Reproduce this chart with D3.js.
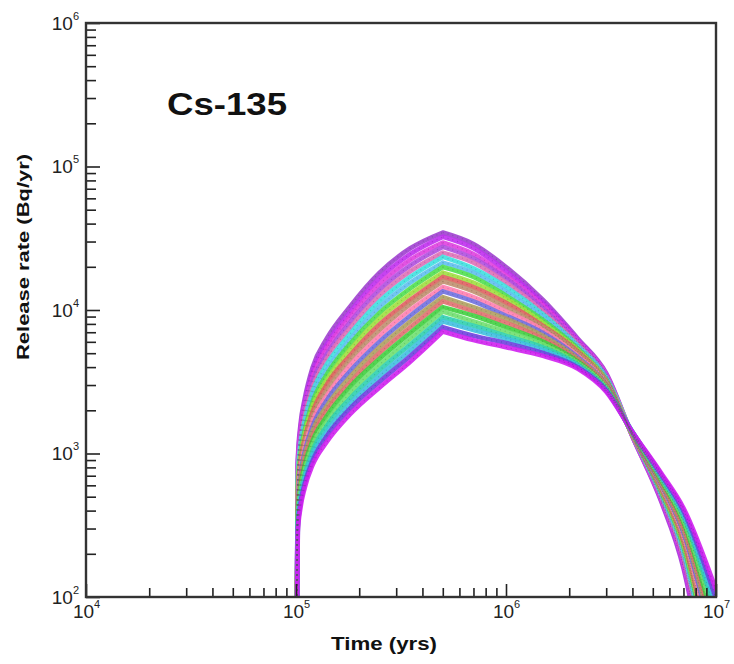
<!DOCTYPE html>
<html>
<head>
<meta charset="utf-8">
<script src="https://cdn.jsdelivr.net/npm/d3@7"></script>
<style>
body { margin: 0; background: #fff; }
svg { display: block; font-family: "Liberation Sans", Arial, sans-serif; }
</style>
</head>
<body>
<svg id="chart" width="734" height="664"></svg>
<script>
// sample times (yrs) shared by every realisation
var times = [1.0e5, 1.02e5, 1.05e5, 1.1e5, 1.2e5, 1.4e5, 1.8e5, 2.5e5, 3.5e5, 5e5,
             7e5, 1e6, 1.5e6, 2.2e6, 3e6, 4e6, 5.5e6, 7e6, 1e7];
var peakTime = 5e5;

// log10 of release rate (Bq/yr), one row per curve (highest peak first)
var rateExp = [
  [1, 2.95, 3.20, 3.38, 3.60, 3.80, 4.02, 4.26, 4.43, 4.54, 4.46, 4.30, 4.07, 3.80, 3.56, 3.12, 2.66, 2.20, 0.90],
  [1, 2.93, 3.17, 3.35, 3.57, 3.76, 3.98, 4.22, 4.39, 4.51, 4.43, 4.27, 4.05, 3.79, 3.55, 3.12, 2.67, 2.22, 0.96],
  [1, 2.90, 3.14, 3.32, 3.53, 3.73, 3.95, 4.18, 4.35, 4.47, 4.39, 4.24, 4.03, 3.78, 3.55, 3.12, 2.68, 2.24, 1.02],
  [1, 2.87, 3.11, 3.29, 3.50, 3.69, 3.91, 4.14, 4.31, 4.44, 4.36, 4.22, 4.01, 3.77, 3.54, 3.12, 2.69, 2.26, 1.07],
  [1, 2.85, 3.08, 3.26, 3.46, 3.66, 3.87, 4.10, 4.27, 4.40, 4.33, 4.19, 3.99, 3.76, 3.53, 3.13, 2.70, 2.28, 1.13],
  [1, 2.83, 3.06, 3.23, 3.43, 3.62, 3.83, 4.06, 4.23, 4.37, 4.29, 4.16, 3.97, 3.75, 3.53, 3.13, 2.71, 2.31, 1.19],
  [1, 2.80, 3.03, 3.19, 3.40, 3.58, 3.79, 4.02, 4.19, 4.33, 4.26, 4.13, 3.95, 3.74, 3.52, 3.13, 2.72, 2.33, 1.25],
  [1, 2.78, 3.00, 3.16, 3.36, 3.55, 3.76, 3.98, 4.15, 4.30, 4.23, 4.10, 3.93, 3.73, 3.51, 3.13, 2.73, 2.35, 1.30],
  [1, 2.75, 2.97, 3.13, 3.33, 3.51, 3.72, 3.94, 4.11, 4.26, 4.19, 4.08, 3.91, 3.72, 3.51, 3.13, 2.74, 2.37, 1.36],
  [1, 2.72, 2.94, 3.10, 3.29, 3.48, 3.68, 3.90, 4.07, 4.23, 4.16, 4.05, 3.89, 3.71, 3.50, 3.13, 2.75, 2.39, 1.42],
  [1, 2.70, 2.91, 3.07, 3.26, 3.44, 3.65, 3.86, 4.04, 4.20, 4.13, 4.02, 3.88, 3.70, 3.50, 3.13, 2.76, 2.41, 1.48],
  [1, 2.68, 2.88, 3.04, 3.23, 3.40, 3.61, 3.82, 4.00, 4.16, 4.09, 3.99, 3.86, 3.68, 3.49, 3.14, 2.77, 2.43, 1.53],
  [1, 2.65, 2.85, 3.01, 3.19, 3.37, 3.57, 3.78, 3.96, 4.13, 4.06, 3.96, 3.84, 3.67, 3.48, 3.14, 2.78, 2.45, 1.59],
  [1, 2.62, 2.82, 2.98, 3.16, 3.33, 3.53, 3.74, 3.92, 4.09, 4.02, 3.94, 3.82, 3.66, 3.48, 3.14, 2.79, 2.47, 1.65],
  [1, 2.60, 2.79, 2.95, 3.12, 3.30, 3.49, 3.70, 3.88, 4.06, 3.99, 3.91, 3.80, 3.65, 3.47, 3.14, 2.80, 2.49, 1.71],
  [1, 2.58, 2.77, 2.92, 3.09, 3.26, 3.46, 3.66, 3.84, 4.02, 3.96, 3.88, 3.78, 3.64, 3.46, 3.14, 2.81, 2.52, 1.76],
  [1, 2.55, 2.74, 2.88, 3.06, 3.22, 3.42, 3.62, 3.80, 3.99, 3.92, 3.85, 3.76, 3.63, 3.46, 3.14, 2.82, 2.54, 1.82],
  [1, 2.52, 2.71, 2.85, 3.02, 3.19, 3.38, 3.58, 3.76, 3.95, 3.89, 3.82, 3.74, 3.62, 3.45, 3.15, 2.83, 2.56, 1.88],
  [1, 2.50, 2.68, 2.82, 2.99, 3.15, 3.34, 3.54, 3.72, 3.92, 3.86, 3.80, 3.72, 3.61, 3.44, 3.15, 2.84, 2.58, 1.94],
  [1, 2.48, 2.65, 2.79, 2.95, 3.12, 3.31, 3.50, 3.68, 3.88, 3.82, 3.77, 3.70, 3.60, 3.44, 3.15, 2.85, 2.60, 1.99],
  [1, 2.45, 2.62, 2.76, 2.92, 3.08, 3.27, 3.46, 3.64, 3.85, 3.79, 3.74, 3.68, 3.59, 3.43, 3.15, 2.86, 2.62, 2.05]
];

var lineColors = ['#a040d0', '#c030f0', '#e040e0', '#b050e0', '#e070b8', '#40e0e0', '#60c0f0',
                  '#50e050', '#a0e040', '#e06060', '#c09070', '#ff80b0', '#7070e0', '#b0a060',
                  '#e07070', '#40d040', '#70e070', '#30d0b0', '#40c0e0', '#7040e0', '#d020f0'];

var xDecades = [1e4, 1e5, 1e6, 1e7];
var yDecades = [1e2, 1e3, 1e4, 1e5, 1e6];
var chartTitle = 'Cs-135';
var xTitle = 'Time (yrs)';
var yTitle = 'Release rate (Bq/yr)';

var svg = d3.select('#chart');
// note: "top" is taken by window.top, so plot edges get their own names
var plotL = 86, plotR = 716, plotT = 23, plotB = 597;

var x = d3.scaleLog().domain([1e4, 1e7]).range([plotL, plotR]);
var y = d3.scaleLog().domain([1e2, 1e6]).range([plotB, plotT]);

var isDecade = function(v) {
    var e = Math.log10(v);
    return Math.abs(e - Math.round(e)) < 1e-9;
};

svg.append('clipPath').attr('id', 'plotclip')
    .append('rect')
    .attr('x', plotL).attr('y', plotT)
    .attr('width', plotR - plotL).attr('height', plotB - plotT);

// curves: smooth on each side of the peak, keep the kink at the peak itself
var smooth = d3.line()
    .curve(d3.curveMonotoneX)
    .x(function(d) { return x(d[0]); })
    .y(function(d) { return y(d[1]); });

var peakIdx = times.indexOf(peakTime);
var curvePath = function(d) {
    return smooth(d.slice(0, peakIdx + 1)) + smooth(d.slice(peakIdx));
};

var curves = rateExp.map(function(row) {
    return row.map(function(e, i) { return [times[i], Math.pow(10, e)]; });
});

var plot = svg.append('g').attr('clip-path', 'url(#plotclip)');

plot.selectAll('path.curve')
    .data(curves)
    .enter()
    .append('path')
    .attr('class', 'curve')
    .attr('d', curvePath)
    .attr('fill', 'none')
    .attr('stroke', function(d, i) { return lineColors[i]; })
    .attr('stroke-width', 4.6)
    .attr('stroke-opacity', 0.9)
    .attr('stroke-linejoin', 'round')
    .attr('stroke-linecap', 'round');

// dotted overlay for the symbol-ish texture
plot.selectAll('path.dots')
    .data(curves)
    .enter()
    .append('path')
    .attr('class', 'dots')
    .attr('d', curvePath)
    .attr('fill', 'none')
    .attr('stroke', function(d, i) { return d3.color(lineColors[i]).darker(1.2); })
    .attr('stroke-width', 1.2)
    .attr('stroke-dasharray', '1,4')
    .attr('stroke-opacity', 0.4);

// axes: minor ticks
var minorX = x.ticks().filter(function(v) { return !isDecade(v); });
var minorY = y.ticks().filter(function(v) { return !isDecade(v); });

svg.append('g')
    .attr('transform', 'translate(0,' + plotB + ')')
    .call(d3.axisBottom(x).tickValues(minorX).tickSizeInner(-9).tickSizeOuter(0).tickFormat(''))
    .call(function(g) { g.select('.domain').remove(); });

svg.append('g')
    .attr('transform', 'translate(' + plotL + ',0)')
    .call(d3.axisLeft(y).tickValues(minorY).tickSizeInner(-10).tickSizeOuter(0).tickFormat(''))
    .call(function(g) { g.select('.domain').remove(); });

// major ticks with 10^n labels
var powLabel = function(sel) {
    sel.selectAll('.tick text').each(function(d) {
        var t = d3.select(this);
        t.text('');
        t.append('tspan').text('10');
        t.append('tspan').attr('dy', -10).attr('font-size', 11).text(Math.round(Math.log10(d)));
    });
};

var xMajor = svg.append('g')
    .attr('transform', 'translate(0,' + plotB + ')')
    .call(d3.axisBottom(x).tickValues(xDecades).tickSizeInner(-13).tickSizeOuter(0).tickPadding(8))
    .call(function(g) { g.select('.domain').remove(); });
xMajor.call(powLabel);

var yMajor = svg.append('g')
    .attr('transform', 'translate(' + plotL + ',0)')
    .call(d3.axisLeft(y).tickValues(yDecades).tickSizeInner(-14).tickSizeOuter(0).tickPadding(7))
    .call(function(g) { g.select('.domain').remove(); });
yMajor.call(powLabel);

svg.selectAll('.tick line').attr('stroke', '#222').attr('stroke-width', 1.6);
svg.selectAll('.tick text').attr('font-size', 19).attr('fill', '#222')
    .attr('font-family', '"Liberation Sans", Arial, sans-serif');

// frame
svg.append('rect')
    .attr('x', plotL).attr('y', plotT)
    .attr('width', plotR - plotL).attr('height', plotB - plotT)
    .attr('fill', 'none')
    .attr('stroke', '#333')
    .attr('stroke-width', 2.4);

// titles
svg.append('text')
    .attr('x', 167).attr('y', 115)
    .attr('font-size', 32).attr('font-weight', 'bold')
    .attr('textLength', 120).attr('lengthAdjust', 'spacingAndGlyphs')
    .attr('fill', '#111')
    .text(chartTitle);

svg.append('text')
    .attr('x', 384).attr('y', 650)
    .attr('text-anchor', 'middle')
    .attr('font-size', 18).attr('font-weight', 'bold')
    .attr('textLength', 106).attr('lengthAdjust', 'spacingAndGlyphs')
    .attr('fill', '#111')
    .text(xTitle);

svg.append('text')
    .attr('transform', 'translate(29,257) rotate(-90)')
    .attr('text-anchor', 'middle')
    .attr('font-size', 17).attr('font-weight', 'bold')
    .attr('textLength', 206).attr('lengthAdjust', 'spacingAndGlyphs')
    .attr('fill', '#111')
    .text(yTitle);
</script>
</body>
</html>
